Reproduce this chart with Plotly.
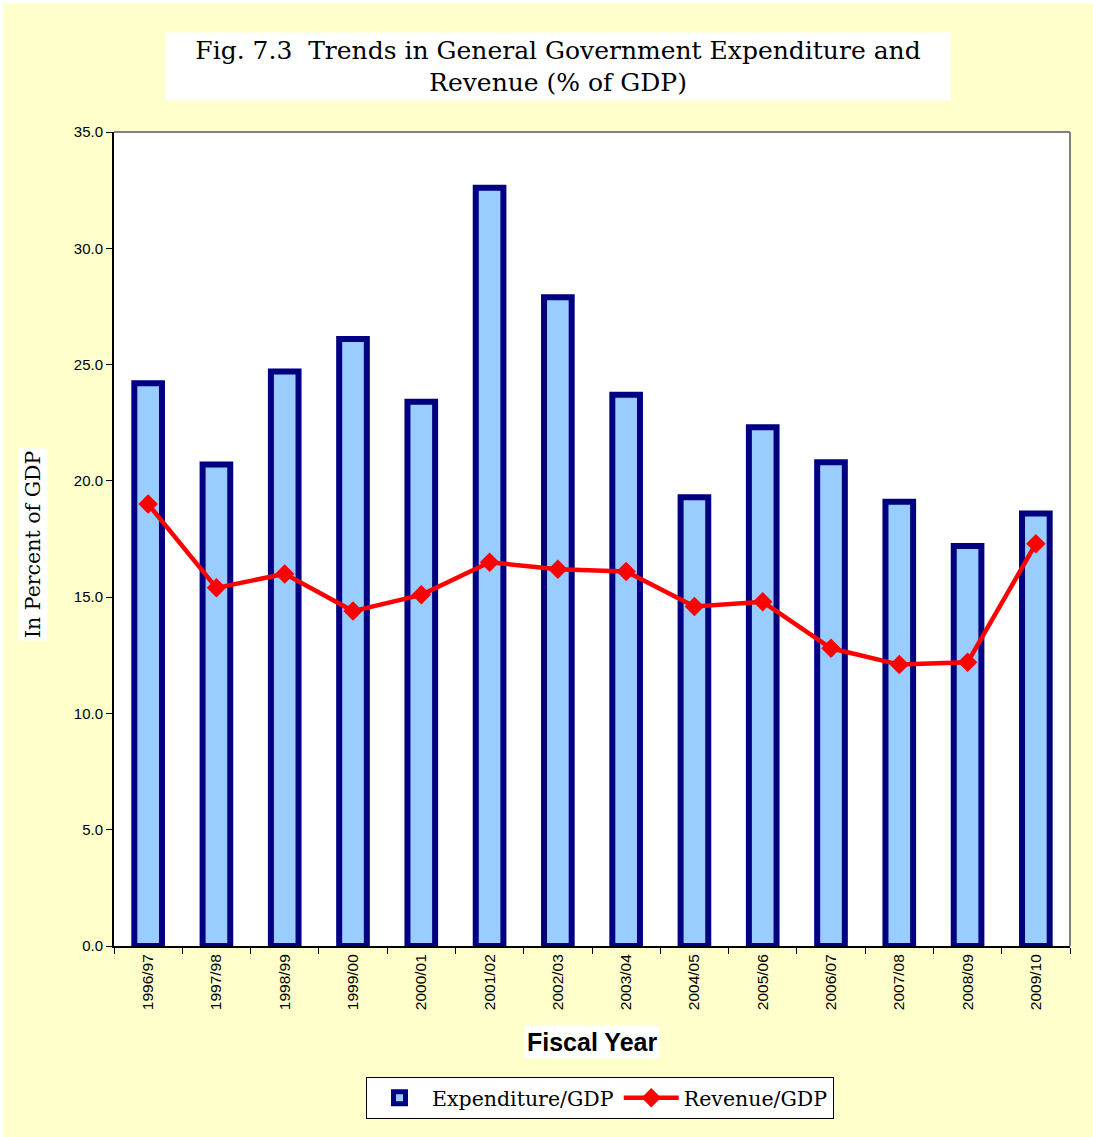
import plotly.graph_objects as go

# Fiscal years on the category axis
fiscal_years = ["1996/97", "1997/98", "1998/99", "1999/00", "2000/01", "2001/02", "2002/03",
                "2003/04", "2004/05", "2005/06", "2006/07", "2007/08", "2008/09", "2009/10"]

# General government expenditure, % of GDP
expenditure_gdp = [24.2, 20.7, 24.7, 26.1, 23.4, 32.6, 27.9,
                   23.7, 19.3, 22.3, 20.8, 19.1, 17.2, 18.6]

# General government revenue, % of GDP
revenue_gdp = [19.0, 15.4, 16.0, 14.4, 15.1, 16.5, 16.2,
               16.1, 14.6, 14.8, 12.8, 12.1, 12.2, 17.3]

# Y axis ticks
y_ticks = [0, 5, 10, 15, 20, 25, 30, 35]

W, H = 1093, 1137
L, R, T, B = 114, 23, 132, 191
PW, PH = W - L - R, H - T - B


def px_x(px):
    return (px - L) / PW


def px_y(py):
    return (H - B - py) / PH


PAGE = "#FFFFCC"
SERIF = "DejaVu Serif"
SANS = "Liberation Sans, Arial"

fig = go.Figure()

fig.add_trace(go.Bar(
    x=fiscal_years, y=expenditure_gdp, name="Expenditure/GDP",
    width=0.405,
    marker=dict(color="#99CCFF", line=dict(color="#000080", width=6)),
))

fig.add_trace(go.Scatter(
    x=fiscal_years, y=revenue_gdp, name="Revenue/GDP", mode="lines+markers",
    line=dict(color="#FF0000", width=4.5),
    marker=dict(symbol="diamond", size=15, color="#FF0000"),
))

shapes = [
    # top and right frame of the plot area
    dict(type="line", xref="paper", yref="paper", x0=0, x1=1, y0=1, y1=1,
         line=dict(color="#808080", width=2)),
    dict(type="line", xref="paper", yref="paper", x0=1, x1=1, y0=0, y1=1,
         line=dict(color="#808080", width=2)),
    # thin white margin at the top and left of the page
    dict(type="rect", xref="paper", yref="paper", x0=px_x(0), x1=px_x(W), y0=px_y(0), y1=px_y(3.5),
         fillcolor="white", line=dict(width=0), layer="below"),
    dict(type="rect", xref="paper", yref="paper", x0=px_x(0), x1=px_x(3.5), y0=px_y(0), y1=px_y(H),
         fillcolor="white", line=dict(width=0), layer="below"),
]

annotations = [
    dict(text="Fig. 7.3  Trends in General Government Expenditure and<br>Revenue (% of GDP)",
         xref="paper", yref="paper", x=px_x(558), y=px_y(66.5),
         xanchor="center", yanchor="middle", showarrow=False,
         width=784, height=67, bgcolor="white", borderpad=0,
         font=dict(family=SERIF, size=25, color="black")),
    dict(text="In Percent of GDP", textangle=-90,
         xref="paper", yref="paper", x=px_x(33), y=px_y(545),
         xanchor="center", yanchor="middle", showarrow=False,
         bgcolor="white", borderpad=2,
         font=dict(family=SERIF, size=20.5, color="black")),
    dict(text="<b>Fiscal Year</b>",
         xref="paper", yref="paper", x=px_x(592), y=px_y(1042),
         xanchor="center", yanchor="middle", showarrow=False,
         bgcolor="white", borderpad=2,
         font=dict(family=SANS, size=25, color="black")),
]

fig.update_layout(
    width=W, height=H,
    margin=dict(l=L, r=R, t=T, b=B, pad=0),
    paper_bgcolor=PAGE, plot_bgcolor="white",
    showlegend=True,
    legend=dict(orientation="h", x=px_x(600), xanchor="center", y=px_y(1077), yanchor="top",
                bgcolor="white", bordercolor="black", borderwidth=1,
                font=dict(family=SERIF, size=20.5, color="black"),
                itemwidth=55, tracegroupgap=0),
    shapes=shapes,
    annotations=annotations,
)

fig.update_xaxes(
    type="category", range=[-0.5, len(fiscal_years) - 0.5],
    tickangle=-90, tickson="boundaries",
    ticks="outside", ticklen=6, tickcolor="black", tickwidth=1,
    showline=True, linecolor="black", linewidth=2,
    showgrid=False, zeroline=False,
    tickfont=dict(family=SANS, size=15.5, color="black"),
)

fig.update_yaxes(
    range=[0, 35], tickvals=y_ticks, tickformat=".1f",
    ticks="outside", ticklen=6, tickcolor="black", tickwidth=1,
    showline=True, linecolor="black", linewidth=2,
    showgrid=False, zeroline=False,
    tickfont=dict(family=SANS, size=15, color="black"),
)

fig.write_html("out.html")
